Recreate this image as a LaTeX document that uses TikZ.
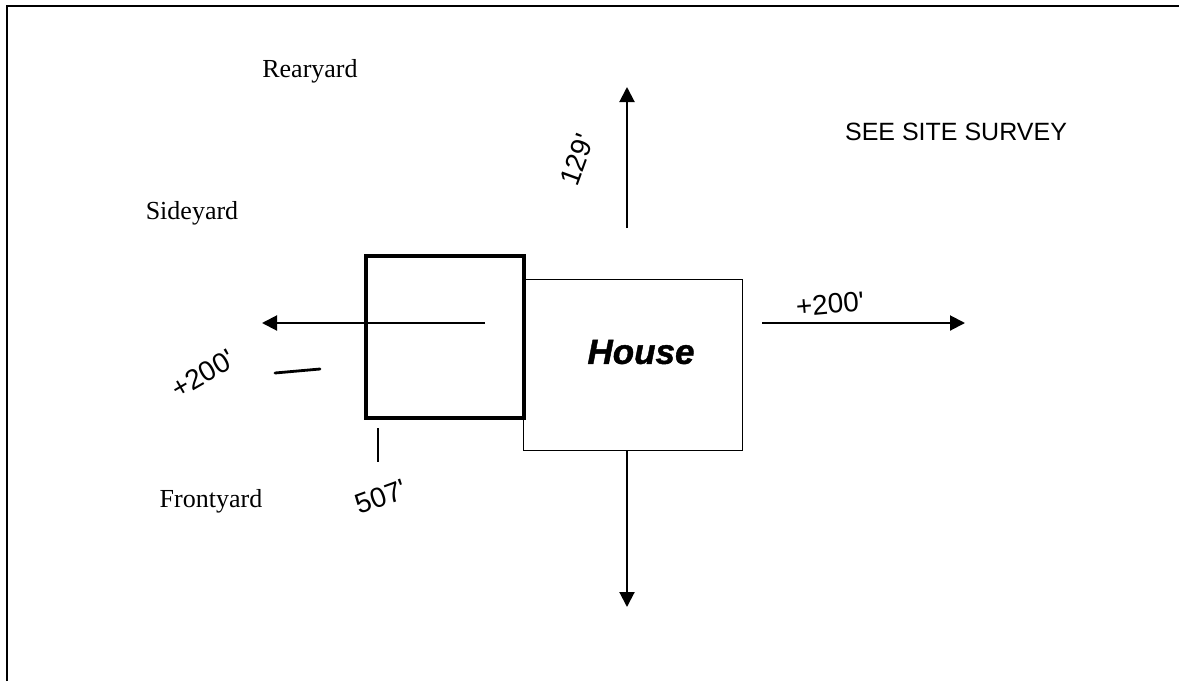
\documentclass[tikz,border=0pt]{standalone}
\usepackage{fontspec}
\setmainfont{Liberation Serif}
\newfontfamily\arialfont{Liberation Sans}
\newfontfamily\housefont{Liberation Sans}[UprightFont=* Bold Italic, UprightFeatures={FakeBold=1.2}]
\usetikzlibrary{arrows.meta}
\tikzset{
  yardlabel/.style={font=\fontsize{13}{15}\selectfont, inner sep=0pt},
  hand/.style={font=\arialfont\fontsize{14}{16}\selectfont, inner sep=0pt},
  arr/.style={line width=1pt, -{Triangle[length=7.5pt,width=7.5pt]}},
  thinline/.style={line width=0.6pt}
}
\begin{document}
\begin{tikzpicture}[x=0.5pt,y=-0.5pt]
\useasboundingbox (0,0) rectangle (1179,681);
% frame
\draw[line width=1.2pt] (7,681) -- (7,6) -- (1179,6);
% garage and house
\node[draw, line width=1.8pt, minimum width=79pt, minimum height=81pt, inner sep=0pt, anchor=north west] (garage) at (364,254) {};
\node[draw, thinline, minimum width=109.5pt, minimum height=85.5pt, inner sep=0pt, anchor=north west] (house) at (523,279) {};
\node[font=\housefont\fontsize{17.5}{20}\selectfont, inner sep=0pt] (houselbl) at (641,352) {House};
% arrow anchors
\coordinate (lstart) at (485,323);
\coordinate (lend) at (262,323);
\coordinate (rstart) at (762,323);
\coordinate (rend) at (965,323);
\coordinate (ustart) at (627,228);
\coordinate (uend) at (627,87);
\coordinate (dend) at (627,607);
\draw[arr] (lstart) -- (lend);
\draw[arr] (rstart) -- (rend);
\draw[arr] (ustart) -- (uend);
\draw[arr] (house.south -| ustart) -- (dend);
% labels
\node[yardlabel] (rear) at (310,71) {Rearyard};
\node[yardlabel] (side) at (192,213) {Sideyard};
\node[yardlabel] (front) at (211,501) {Frontyard};
\node[font=\arialfont\fontsize{12.5}{15}\selectfont, inner sep=0pt] (survey) at (956,132) {SEE SITE SURVEY};
% handwritten notes
\node[hand, rotate=70] (h129) at (577,160) {129'};
\node[hand, rotate=30] (hleft) at (203,374) {+200'};
\node[hand, rotate=5] (hright) at (830,304) {+200'};
\node[hand, rotate=20] (hbottom) at (381,497) {507'};
\coordinate (dash1) at (275,373);
\coordinate (dash2) at (320,369);
\draw[line width=1.4pt, line cap=round] (dash1) -- (dash2);
\coordinate (tick1) at (378,428);
\coordinate (tick2) at (378,462);
\draw[line width=1.2pt] (tick1) -- (tick2);
\end{tikzpicture}
\end{document}
